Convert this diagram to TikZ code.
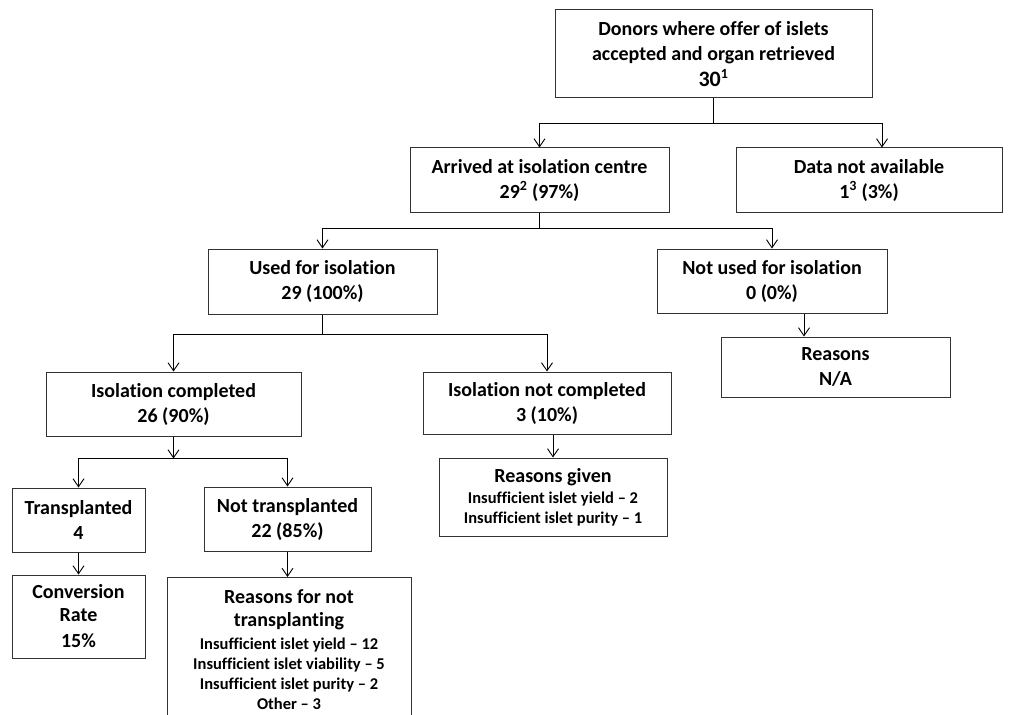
\documentclass[tikz,border=0pt]{standalone}
\usepackage{fontspec}
\setmainfont{Carlito}[Ligatures=NoCommon]
\usetikzlibrary{arrows.meta,calc}
\tikzset{
  fbox/.style={draw=black!80, line width=1pt, inner sep=0pt, align=center,
    font=\bfseries\fontsize{20}{25}\selectfont, text=black},
  conn/.style={draw=black, line width=1pt},
  arrowed/.style={conn, -{Straight Barb[length=8pt,width=11pt,line width=0.9pt]}},
}
\newcommand{\smalltxt}{\fontsize{16.5}{20}\selectfont}
\begin{document}
\begin{tikzpicture}[x=1pt,y=-1pt]
\useasboundingbox (0,0) rectangle (1016,714);
\clip (0,0) rectangle (1016,714);
\fill[white] (0,0) rectangle (1016,714);
% nodes
\node[fbox, minimum width=317pt, minimum height=88pt] (top) at (713.5,54)
  {Donors where offer of islets\\accepted and organ retrieved\\[1pt]{\fontsize{22}{25}\selectfont 30}\textsuperscript{1}};
\node[fbox, minimum width=259pt, minimum height=64pt] (arr) at (539.5,180)
  {Arrived at isolation centre\\29\textsuperscript{2} (97\%)};
\node[fbox, minimum width=266pt, minimum height=64pt] (dna) at (869,180)
  {Data not available\\1\textsuperscript{3} (3\%)};
\node[fbox, minimum width=229pt, minimum height=65pt] (used) at (322.5,281.5)
  {Used for isolation\\29 (100\%)};
\node[fbox, minimum width=230pt, minimum height=64pt] (notused) at (772,281)
  {Not used for isolation\\0 (0\%)};
\node[fbox, minimum width=229pt, minimum height=60pt] (rna) at (835.5,367)
  {Reasons\\N/A};
\node[fbox, minimum width=255pt, minimum height=64pt] (isoc) at (173.5,404)
  {Isolation completed\\26 (90\%)};
\node[fbox, minimum width=248pt, minimum height=62pt] (isonc) at (547,403)
  {Isolation not completed\\3 (10\%)};
\node[fbox, minimum width=228pt, minimum height=78pt] (rgiven) at (553,497)
  {Reasons given\\[-4pt]{\smalltxt Insufficient islet yield -- 2}\\[-5pt]{\smalltxt Insufficient islet purity -- 1}};
\node[fbox, minimum width=133pt, minimum height=64pt] (tx) at (78.5,520)
  {Transplanted\\4};
\node[fbox, minimum width=167pt, minimum height=64pt] (ntx) at (287.5,519)
  {Not transplanted\\22 (85\%)};
\node[fbox, minimum width=133pt, minimum height=83pt] (conv) at (78.5,616.5)
  {Conversion\\[-2pt]Rate\\[1pt]15\%};
\node[fbox, minimum width=244pt, minimum height=145pt] (rnt) at (289,650)
  {Reasons for not\\[-2pt]transplanting\\[-2pt]{\smalltxt Insufficient islet yield -- 12}\\[-5pt]{\smalltxt Insufficient islet viability -- 5}\\[-5pt]{\smalltxt Insufficient islet purity -- 2}\\[-5pt]{\smalltxt Other -- 3}};
% connectors
\draw[arrowed] (top.south) -- ++(0,25) -| (arr.north);
\draw[arrowed] (top.south) -- ++(0,25) -| ([xshift=13pt]dna.north);
\draw[arrowed] (arr.south) -- ++(0,16) -| (used.north);
\draw[arrowed] (arr.south) -- ++(0,16) -| (notused.north);
\draw[arrowed] ([xshift=32pt]notused.south) -- ([xshift=32pt]notused.south |- rna.north);
\draw[arrowed] (used.south) -- ++(0,20) -| (isoc.north);
\draw[arrowed] (used.south) -- ++(0,20) -| (isonc.north);
\draw[arrowed] (rgiven.north |- isonc.south) -- (rgiven.north);
\draw[arrowed] (isoc.south) -- ++(0,22) coordinate (j4);
\draw[arrowed] (j4) -| (tx.north);
\draw[arrowed] (j4) -| (ntx.north);
\draw[arrowed] (tx.south) -- (conv.north);
\draw[arrowed] (ntx.south) -- (ntx.south |- rnt.north);
\end{tikzpicture}
\end{document}
